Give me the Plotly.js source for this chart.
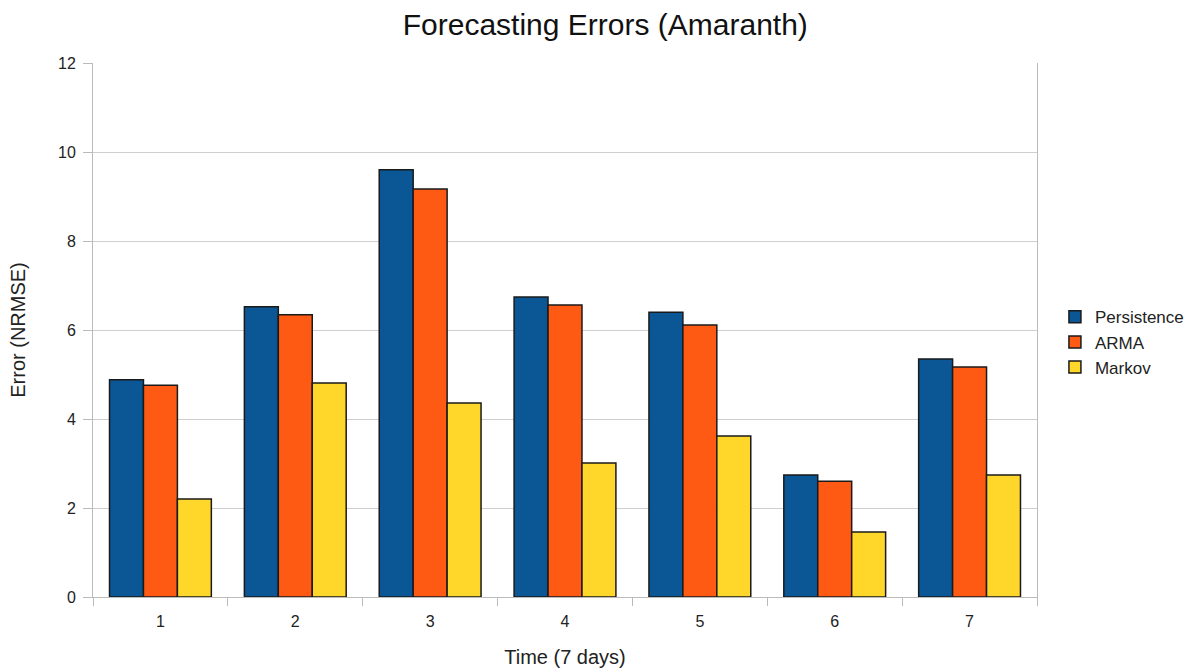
<!DOCTYPE html>
<html>
<head>
<meta charset="utf-8">
<script src="https://cdn.plot.ly/plotly-3.0.1.min.js"></script>
<style>html,body{margin:0;padding:0;background:#fff;}#chart{width:1201px;height:672px;}</style>
</head>
<body>
<div id="chart"></div>
<script>
var categories = ["1", "2", "3", "4", "5", "6", "7"];
var persistence = [4.88, 6.52, 9.60, 6.74, 6.40, 2.74, 5.35];
var arma = [4.76, 6.34, 9.17, 6.56, 6.11, 2.60, 5.17];
var markov = [2.20, 4.81, 4.36, 3.01, 3.62, 1.46, 2.74];
var seriesNames = ["Persistence", "ARMA", "Markov"];
var seriesColors = ["#0b5796", "#ff5a14", "#ffd72a"];
var seriesValues = [persistence, arma, markov];

var traces = seriesValues.map(function (vals, i) {
  return {
    type: "bar",
    name: seriesNames[i],
    x: categories,
    y: vals,
    marker: { color: seriesColors[i], line: { color: "#1a1a1a", width: 1.5 } }
  };
});

var layout = {
  width: 1201, height: 672,
  margin: { l: 93, r: 164, t: 63, b: 75, autoexpand: false },
  paper_bgcolor: "#fff", plot_bgcolor: "#fff",
  font: { family: "Liberation Sans, Arial, sans-serif", size: 16, color: "#222" },
  title: { text: "Forecasting Errors (Amaranth)", font: { size: 30, color: "#111" }, x: 0.504, xanchor: "center", xref: "container", y: 0.964, yanchor: "middle" },
  barmode: "group", bargap: 0.245, bargroupgap: 0,
  showlegend: true,
  legend: { x: 1.019, y: 0.477, xanchor: "left", yanchor: "middle", font: { size: 17 }, tracegroupgap: 0, itemwidth: 30 },
  xaxis: {
    type: "category",
    title: { text: "Time (7 days)", font: { size: 20 }, standoff: 20 },
    showline: true, linecolor: "#bbb", linewidth: 1,
    ticks: "outside", tickson: "boundaries", ticklen: 8, tickcolor: "#bbb",
    ticklabelstandoff: 10,
    showgrid: false, zeroline: false
  },
  yaxis: {
    title: { text: "Error (NRMSE)", font: { size: 20 }, standoff: 27 },
    range: [0, 12], dtick: 2,
    showline: true, linecolor: "#bbb", linewidth: 1, mirror: true,
    ticks: "outside", ticklen: 9, tickcolor: "#bbb",
    ticklabelstandoff: 4,
    showgrid: true, gridcolor: "#cfcfcf", gridwidth: 1, zeroline: false
  }
};

Plotly.newPlot("chart", traces, layout, { displayModeBar: false, staticPlot: true });
</script>
</body>
</html>
